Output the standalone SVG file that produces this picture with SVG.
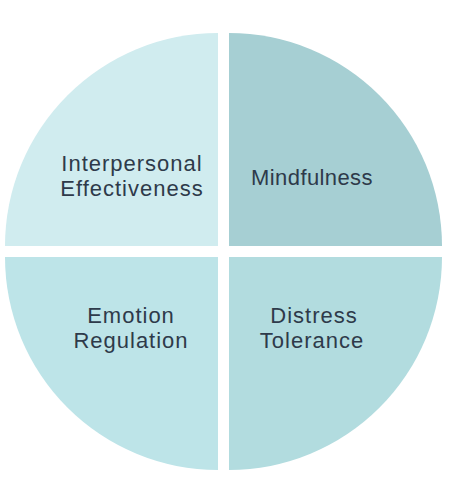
<svg xmlns="http://www.w3.org/2000/svg" width="462" height="492" viewBox="0 0 462 492">
<style>
.lbl{font-family:"Liberation Sans",Arial,sans-serif;font-size:22px;fill:#2e3a4a;text-anchor:middle;letter-spacing:1px}
</style>
<rect width="462" height="492" fill="#ffffff"/>
<g id="interpersonal">
<path d="M218,246 L5,246 A213,213 0 0 1 218,33 Z" fill="#d0ecef"/>
<text class="lbl" x="132" y="171">Interpersonal</text>
<text class="lbl" x="132" y="196">Effectiveness</text>
</g>
<g id="mindfulness">
<path d="M229,246 L229,33 A213,213 0 0 1 442,246 Z" fill="#a6cfd3"/>
<text class="lbl" x="312" y="185" style="letter-spacing:0.4px">Mindfulness</text>
</g>
<g id="emotion">
<path d="M218,257 L218,470 A213,213 0 0 1 5,257 Z" fill="#bde4e8"/>
<text class="lbl" x="131" y="323">Emotion</text>
<text class="lbl" x="131" y="348">Regulation</text>
</g>
<g id="distress">
<path d="M229,257 L442,257 A213,213 0 0 1 229,470 Z" fill="#b2dcdf"/>
<text class="lbl" x="314" y="323">Distress</text>
<text class="lbl" x="312" y="348">Tolerance</text>
</g>
<g id="connectors"></g>
</svg>
